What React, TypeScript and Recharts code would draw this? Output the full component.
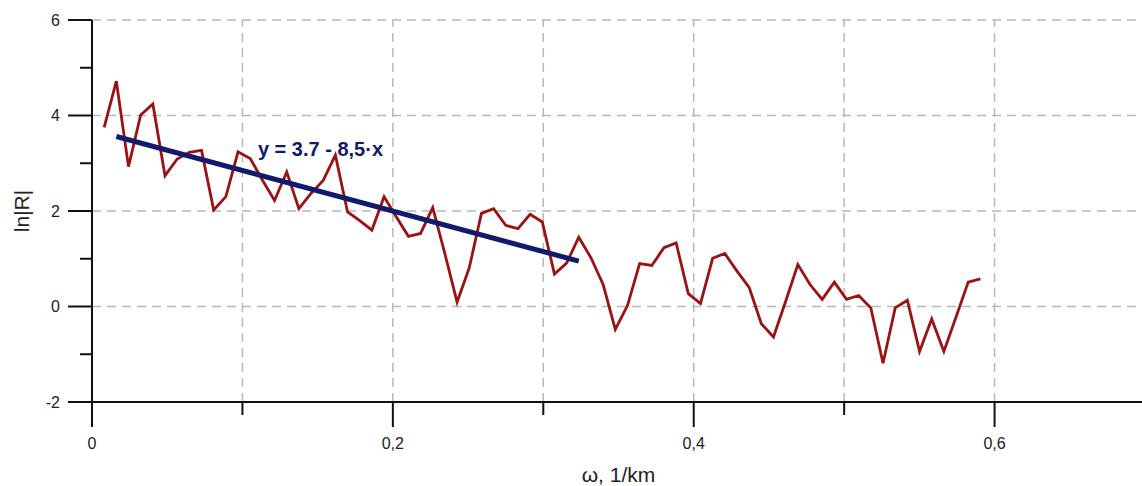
import React from "react";
import { LineChart, Line, XAxis, YAxis, ReferenceLine, ReferenceDot, Label } from "recharts";

// ---- data ----
const omegaStep = 0.00809; // spacing of the spectral samples, 1/km
const lnR = [
  3.75, 4.72, 2.93, 4.01, 4.24, 2.74, 3.09, 3.23, 3.27, 2.02,
  2.3, 3.24, 3.1, 2.65, 2.22, 2.82, 2.05, 2.37, 2.64, 3.17,
  1.98, 1.8, 1.6, 2.3, 1.88, 1.47, 1.53, 2.07, 1.1, 0.09,
  0.81, 1.95, 2.05, 1.7, 1.63, 1.93, 1.77, 0.68, 0.91, 1.45,
  1.02, 0.46, -0.48, 0.02, 0.9, 0.86, 1.23, 1.33, 0.27, 0.06,
  1.01, 1.11, 0.74, 0.4, -0.36, -0.64, 0.11, 0.88, 0.46, 0.15,
  0.51, 0.15, 0.23, -0.03, -1.19, -0.03, 0.13, -0.94, -0.26, -0.94,
  -0.22, 0.51, 0.58,
];
const fitOmega = [0.0162, 0.3236];
const fitLnR = [3.56, 0.95];
const fitLabel = "y = 3.7 - 8,5·x";
const fitLabelPos = [0.1103, 3.16];

const xTicks = [0, 0.1, 0.2, 0.3, 0.4, 0.5, 0.6, 0.7];
const xTickLabels = ["0", "", "0,2", "", "0,4", "", "0,6", ""];
const yTicks = [-2, -1, 0, 1, 2, 3, 4, 5, 6];
const yTickLabels = ["-2", "", "0", "", "2", "", "4", "", "6"];
const xGrid = [0.1, 0.2, 0.3, 0.4, 0.5, 0.6, 0.7];
const yGrid = [0, 2, 4, 6];
const xTitle = "ω, 1/km";
const yTitle = "ln|R|";

const series = lnR.map((v, i) => ({ x: (i + 1) * omegaStep, r: v }));
const fitSeries = fitOmega.map((x, i) => ({ x, fit: fitLnR[i] }));

const FONT = '"Liberation Sans", Arial, Helvetica, sans-serif';
const AXIS = "#111";
const GRID = "#b8b8b8";

const XTick = (props: any) => {
  const { x, y, payload } = props;
  const idx = xTicks.findIndex((t) => Math.abs(t - payload.value) < 1e-9);
  const label = idx >= 0 ? xTickLabels[idx] : "";
  const major = label !== "";
  return (
    <g>
      <line x1={x} y1={y} x2={x} y2={y + (major ? 25 : 13)} stroke={AXIS} strokeWidth={2} />
      {major && (
        <text x={x} y={y + 47} textAnchor="middle" fontFamily={FONT} fontSize={16} fill="#222">
          {label}
        </text>
      )}
    </g>
  );
};

const YTick = (props: any) => {
  const { x, y, payload } = props;
  const idx = yTicks.findIndex((t) => Math.abs(t - payload.value) < 1e-9);
  const label = idx >= 0 ? yTickLabels[idx] : "";
  const major = label !== "";
  return (
    <g>
      <line x1={x} y1={y} x2={x - (major ? 24 : 12)} y2={y} stroke={AXIS} strokeWidth={2} />
      {major && (
        <text x={x - 32} y={y} dy="0.36em" textAnchor="end" fontFamily={FONT} fontSize={16} fill="#222">
          {label}
        </text>
      )}
    </g>
  );
};

const XTitle = (props: any) => {
  const vb = props.viewBox || {};
  return (
    <text x={vb.x + vb.width / 2} y={vb.y + 80} textAnchor="middle" fontFamily={FONT} fontSize={21} fill="#222">
      {xTitle}
    </text>
  );
};

const YTitle = (props: any) => {
  const vb = props.viewBox || {};
  const cx = vb.x + 21;
  const cy = vb.y + vb.height / 2;
  return (
    <text
      x={cx}
      y={cy}
      dy="0.36em"
      textAnchor="middle"
      transform={`rotate(-90, ${cx}, ${cy})`}
      fontFamily={FONT}
      fontSize={21}
      fill="#222"
    >
      {yTitle}
    </text>
  );
};

const FitText = (props: any) => {
  const vb = props.viewBox || {};
  return (
    <text x={vb.x} y={vb.y} textAnchor="start" fontFamily={FONT} fontSize={20} fontWeight="bold" fill="#14196b">
      {fitLabel}
    </text>
  );
};

export default function App() {
  return (
    <div style={{ position: "absolute", left: 0, top: 0, width: 1142, height: 486, overflow: "hidden", background: "#fff" }}>
      <LineChart width={1150} height={486} margin={{ top: 20, right: 5, bottom: 0, left: 0 }}>
        {xGrid.map((v) => (
          <ReferenceLine key={"gx" + v} x={v} stroke={GRID} strokeWidth={1.5} strokeDasharray="9 6" />
        ))}
        {yGrid.map((v) => (
          <ReferenceLine key={"gy" + v} y={v} stroke={GRID} strokeWidth={1.5} strokeDasharray="9 6" />
        ))}
        <XAxis
          type="number"
          dataKey="x"
          domain={[0, 0.7]}
          ticks={xTicks}
          interval={0}
          allowDataOverflow
          height={84}
          tickLine={false}
          tickSize={0}
          tickMargin={0}
          axisLine={{ stroke: AXIS, strokeWidth: 2 }}
          tick={<XTick />}
        >
          <Label content={<XTitle />} />
        </XAxis>
        <YAxis
          type="number"
          domain={[-2, 6]}
          ticks={yTicks}
          interval={0}
          allowDataOverflow
          width={92}
          tickLine={false}
          tickSize={0}
          tickMargin={0}
          axisLine={{ stroke: AXIS, strokeWidth: 2 }}
          tick={<YTick />}
        >
          <Label content={<YTitle />} />
        </YAxis>
        <Line
          data={series}
          dataKey="r"
          type="linear"
          stroke="#9c1212"
          strokeWidth={2.8}
          dot={false}
          isAnimationActive={false}
        />
        <Line
          data={fitSeries}
          dataKey="fit"
          type="linear"
          stroke="#121a6e"
          strokeWidth={5}
          dot={false}
          isAnimationActive={false}
        />
        <ReferenceDot
          x={fitLabelPos[0]}
          y={fitLabelPos[1]}
          r={0}
          fill="none"
          stroke="none"
          label={<FitText />}
        />
      </LineChart>
    </div>
  );
}
